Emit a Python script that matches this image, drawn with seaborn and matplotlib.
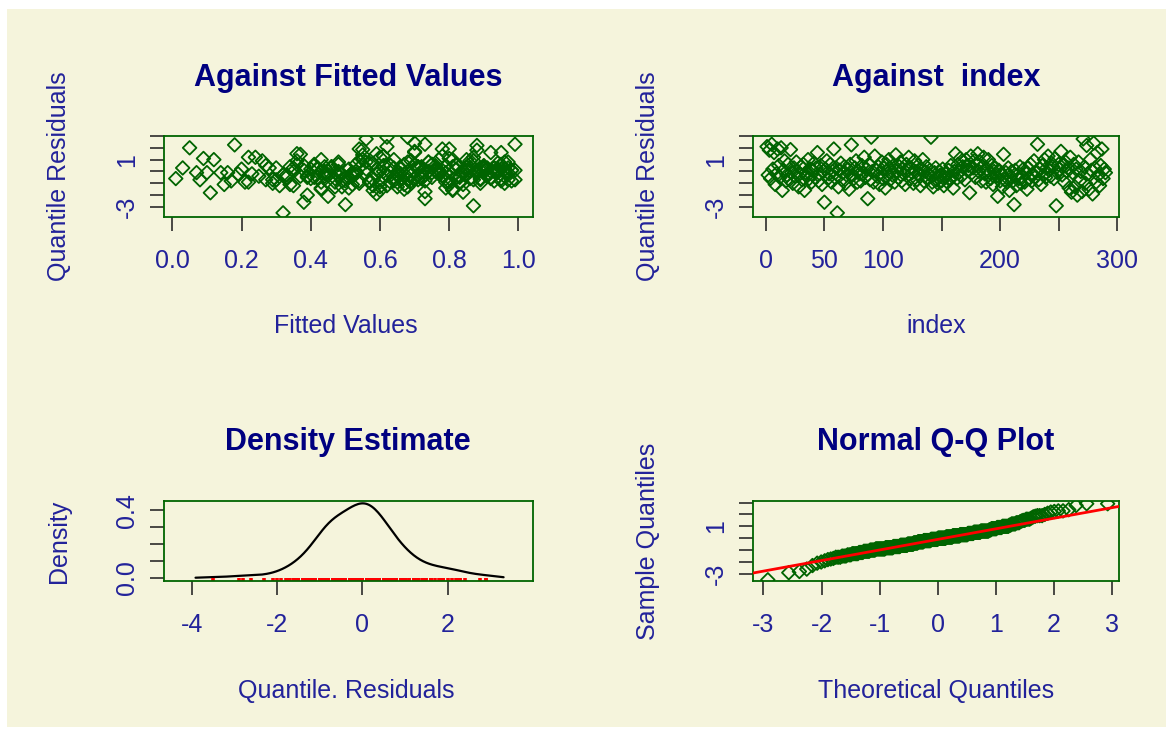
import numpy as np
import pandas as pd
import matplotlib
matplotlib.use("Agg")
import matplotlib.pyplot as plt
from matplotlib.patches import Rectangle
import seaborn as sns
from statistics import NormalDist

# ---------------- data ----------------
residuals = [
    2.1, -0.3, 1.8, -0.6, 2.3, 0.2, 1.6, -1.1, -0.2, 1.9,
    0.5, -0.5, 2.0, -1.6, 0.1, 0.9, -0.8, -0.3, 0.6, -0.7,
    1.85, -0.1, -1.0, 0.3, -0.4, 0.8, 0.0, -1.3, -0.2, 0.4,
    -0.7, 0.6, -1.6, -0.1, -0.4, 1.0, -0.6, 0.2, -0.9, 0.1,
    0.7, -0.5, 0.3, 1.6, -0.8, -0.2, 0.5, -1.1, 0.0, -2.6,
    0.2, 0.9, -0.6, -0.2, 0.6, -0.9, 0.0, 1.9, -0.5, 0.3,
    -3.5, -1.3, 0.1, 0.7, -0.7, -0.1, 0.4, -1.0, -0.3, 0.2,
    -1.5, 0.6, 2.25, -0.3, -0.6, 0.3, 0.9, -0.9, 0.0, -0.2,
    -0.8, 0.5, -0.2, 1.2, -0.5, 0.2, -2.3, 0.6, -0.7, 2.9,
    0.0, -0.9, 1.3, 0.1, -0.4, 0.4, -1.1, -0.1, 0.8, -0.6,
    0.3, -1.4, 0.6, -0.2, 1.0, -0.7, 0.1, -0.3, 0.5, -0.9,
    1.4, 0.0, -0.5, 0.4, 0.8, -0.8, 0.2, -0.2, -1.1, 0.6,
    0.1, 1.2, -0.6, 0.3, -0.1, -1.0, 0.9, 0.0, -0.7, 0.5,
    -0.3, -1.2, 0.2, 1.0, -0.8, 0.0, 0.4, -0.5, -0.2, 0.1,
    2.9, -0.9, -1.3, -0.1, 0.3, -0.7, -1.0, 0.0, -0.3, -0.8,
    0.2, -1.2, -0.5, -0.2, -0.9, 0.1, -0.7, 0.5, -0.4, -1.4,
    0.0, 1.5, -0.6, 0.6, -0.1, 1.1, -0.4, 0.4, 0.8, -0.7,
    1.0, 0.1, 0.5, -1.8, 1.3, -0.1, 0.3, 0.9, -0.5, 0.6,
    1.5, 0.0, 0.8, -0.8, 0.4, 1.2, -0.2, -0.9, 0.2, 1.0,
    -0.1, -0.6, 0.5, -1.1, 0.0, 0.3, -0.4, -2.1, 0.1, -0.8,
    -0.2, -1.3, 1.45, -0.7, -0.1, -0.9, 0.3, -1.6, -0.4, 0.0,
    -0.8, -2.8, 0.1, -1.2, -0.3, -0.6, 0.4, -1.0, -0.5, 0.2,
    -0.9, -0.1, -1.5, 0.3, -0.6, 0.6, -0.8, -0.2, 0.9, -0.5,
    0.0, 2.3, -0.7, 0.2, -1.1, 0.5, -0.3, 1.0, -0.5, 0.3,
    1.3, 0.1, -0.4, 0.7, 0.4, -0.6, 1.1, -2.9, -0.1, 0.6,
    0.2, 1.7, -0.3, 0.5, -0.9, 0.8, 0.0, 0.3, -1.4, 1.2,
    -1.75, -0.1, 0.6, -1.3, 0.2, -2.0, 0.8, -0.8, 0.0, -1.7,
    2.75, 0.4, -1.0, 2.2, -0.2, -1.5, 1.0, 0.1, -1.9, 2.4,
    0.3, -0.9, 1.6, -0.3, -1.2, 0.5, 1.9, -0.6, 0.2, -0.1,
]

fitted = [
    0.62, 0.45, 0.88, 0.01, 0.73, 0.51, 0.95, 0.34, 0.67, 0.80,
    0.41, 0.92, 0.05, 0.58, 0.77, 0.26, 0.69, 0.85, 0.48, 0.97,
    0.55, 0.10, 0.83, 0.64, 0.39, 0.74, 0.90, 0.47, 0.19, 0.71,
    0.87, 0.36, 0.60, 0.94, 0.52, 0.12, 0.79, 0.66, 0.43, 0.99,
    0.58, 0.82, 0.30, 0.70, 0.49, 0.91, 0.63, 0.15, 0.76, 0.38,
    0.96, 0.54, 0.72, 0.44, 0.86, 0.22, 0.61, 0.78, 0.50, 0.93,
    0.32, 0.68, 0.84, 0.57, 0.08, 0.75, 0.46, 0.89, 0.65, 0.40,
    0.81, 0.53, 0.18, 0.97, 0.70, 0.42, 0.87, 0.60, 0.35, 0.77,
    0.64, 0.90, 0.49, 0.24, 0.83, 0.56, 0.73, 0.95, 0.29, 0.68,
    0.45, 0.79, 0.61, 0.98, 0.37, 0.85, 0.52, 0.14, 0.74, 0.66,
    0.91, 0.43, 0.70, 0.59, 0.81, 0.27, 0.94, 0.48, 0.76, 0.63,
    0.55, 0.88, 0.33, 0.72, 0.96, 0.50, 0.20, 0.84, 0.67, 0.41,
    0.78, 0.60, 0.92, 0.46, 0.07, 0.69, 0.86, 0.53, 0.99, 0.38,
    0.71, 0.31, 0.82, 0.64, 0.57, 0.93, 0.44, 0.75, 0.23, 0.89,
    0.62, 0.80, 0.49, 0.97, 0.35, 0.68, 0.54, 0.86, 0.72, 0.17,
    0.94, 0.58, 0.42, 0.77, 0.65, 0.88, 0.30, 0.61, 0.83, 0.51,
    0.74, 0.36, 0.95, 0.67, 0.47, 0.80, 0.25, 0.90, 0.56, 0.71,
    0.43, 0.85, 0.63, 0.11, 0.78, 0.52, 0.97, 0.69, 0.39, 0.82,
    0.59, 0.92, 0.48, 0.73, 0.34, 0.87, 0.66, 0.21, 0.95, 0.55,
    0.79, 0.40, 0.70, 0.84, 0.60, 0.28, 0.91, 0.45, 0.76, 0.98,
    0.53, 0.65, 0.37, 0.89, 0.72, 0.57, 0.03, 0.81, 0.44, 0.68,
    0.93, 0.50, 0.77, 0.62, 0.32, 0.86, 0.71, 0.96, 0.41, 0.59,
    0.83, 0.16, 0.67, 0.90, 0.47, 0.75, 0.54, 0.88, 0.36, 0.64,
    0.74, 0.99, 0.58, 0.42, 0.80, 0.27, 0.69, 0.85, 0.51, 0.93,
    0.61, 0.38, 0.78, 0.94, 0.46, 0.72, 0.09, 0.87, 0.63, 0.55,
    0.90, 0.70, 0.33, 0.82, 0.57, 0.97, 0.44, 0.66, 0.79, 0.22,
    0.84, 0.52, 0.75, 0.60, 0.91, 0.39, 0.68, 0.95, 0.48, 0.73,
    0.56, 0.81, 0.29, 0.88, 0.65, 0.43, 0.77, 0.98, 0.59, 0.70,
    0.86, 0.47, 0.92, 0.62, 0.35, 0.79, 0.54, 0.89, 0.71, 0.96,
]

panel_titles = ["Against Fitted Values", "Against  index", "Density Estimate", "Normal Q-Q Plot"]
x_labels = ["Fitted Values", "index", "Quantile. Residuals", "Theoretical Quantiles"]
y_labels = ["Quantile Residuals", "Quantile Residuals", "Density", "Sample Quantiles"]

resid_ticks = [-3, -2, -1, 0, 1, 2, 3]
resid_ticklabels = ["-3", "", "", "", "1", "", ""]
fitted_ticks = [0.0, 0.2, 0.4, 0.6, 0.8, 1.0]
fitted_ticklabels = ["0.0", "0.2", "0.4", "0.6", "0.8", "1.0"]
index_ticks = [0, 50, 100, 150, 200, 250, 300]
index_ticklabels = ["0", "50", "100", "", "200", "", "300"]
dens_xticks = [-4, -2, 0, 2]
dens_xticklabels = ["-4", "-2", "0", "2"]
dens_yticks = [0.0, 0.1, 0.2, 0.3, 0.4]
dens_yticklabels = ["0.0", "", "", "", "0.4"]
qq_xticks = [-3, -2, -1, 0, 1, 2, 3]
qq_xticklabels = ["-3", "-2", "-1", "0", "1", "2", "3"]

# ---------------- styling ----------------
sns.set_style("white")
plt.rcParams["font.family"] = ["Liberation Sans", "DejaVu Sans"]

BG = "#F5F4DC"
GREEN = "#006400"
TITLE_COL = "#000080"
LAB_COL = "#22229a"
TICK_COL = "#1a1a1a"

W, H = 1173, 732
fig = plt.figure(figsize=(W / 100, H / 100), dpi=100, facecolor="white")
fig.patches.append(Rectangle((7 / W, 1 - 727 / H), (1166 - 7) / W, (727 - 9) / H,
                             transform=fig.transFigure, facecolor=BG, edgecolor="none", zorder=-10))


def add_axes_px(l, t, r, b):
    ax = fig.add_axes([l / W, 1 - b / H, (r - l) / W, (b - t) / H])
    ax.set_facecolor("none")
    for s in ax.spines.values():
        s.set_color(GREEN)
        s.set_linewidth(1.3)
        s.set_visible(True)
    ax.tick_params(axis="both", direction="out", length=10, width=1.1, color=TICK_COL,
                   labelsize=18, labelcolor=LAB_COL, bottom=True, left=True)
    ax.tick_params(axis="x", pad=13)
    ax.tick_params(axis="y", pad=8)
    return ax


def ftext(px, py, s, **kw):
    fig.text(px / W, 1 - py / H, s, **kw)


def yticks(ax, ticks, labels):
    ax.set_yticks(ticks)
    ax.set_yticklabels(labels, rotation=90, va="center")


res = np.array(residuals)
n = len(res)
df = pd.DataFrame({"index": np.arange(1, n + 1), "resid": res, "fitted": fitted})

mk = dict(marker="D", s=48, facecolor="none", edgecolor=GREEN, linewidth=1.3, legend=False)

# Panel 1: against fitted
ax1 = add_axes_px(164, 136, 533, 217)
sns.scatterplot(data=df, x="fitted", y="resid", ax=ax1, **mk)
ax1.set_xlim(-0.024, 1.042)
ax1.set_ylim(-3.85, 3.0)
ax1.set_xticks(fitted_ticks)
ax1.set_xticklabels(fitted_ticklabels)
yticks(ax1, resid_ticks, resid_ticklabels)
ax1.set_xlabel("")
ax1.set_ylabel("")

# Panel 2: against index
ax2 = add_axes_px(753, 136, 1119, 217)
sns.scatterplot(data=df, x="index", y="resid", ax=ax2, **mk)
ax2.set_xlim(-11.0, 301.6)
ax2.set_ylim(-3.85, 3.0)
ax2.set_xticks(index_ticks)
ax2.set_xticklabels(index_ticklabels)
yticks(ax2, resid_ticks, resid_ticklabels)
ax2.set_xlabel("")
ax2.set_ylabel("")

# Panel 3: density estimate
ax3 = add_axes_px(164, 501, 533, 581)
sns.kdeplot(x=res, ax=ax3, bw_adjust=1.0, cut=1.3, color="black", linewidth=1.6)
sns.rugplot(x=res, ax=ax3, color="red", height=0.04, linewidth=2.6)
ax3.set_xlim(-4.65, 4.0)
ax3.set_ylim(-0.0175, 0.4545)
ax3.set_xticks(dens_xticks)
ax3.set_xticklabels(dens_xticklabels)
yticks(ax3, dens_yticks, dens_yticklabels)
ax3.set_xlabel("")
ax3.set_ylabel("")

# Panel 4: normal QQ
ax4 = add_axes_px(753, 501, 1119, 581)
nd = NormalDist()
pp = (np.arange(1, n + 1) - 0.5) / n
theo = np.array([nd.inv_cdf(p) for p in pp])
qq = pd.DataFrame({"theo": theo, "sample": np.sort(res)})
sns.scatterplot(data=qq, x="theo", y="sample", ax=ax4, **mk)
yq = np.percentile(res, [25, 75])
xq = np.array([nd.inv_cdf(0.25), nd.inv_cdf(0.75)])
ax4.axline((xq[0], yq[0]), (xq[1], yq[1]), color="red", linewidth=2.0, zorder=5)
ax4.set_xlim(-3.18, 3.12)
ax4.set_ylim(-3.6, 3.13)
ax4.set_xticks(qq_xticks)
ax4.set_xticklabels(qq_xticklabels)
yticks(ax4, resid_ticks, resid_ticklabels)
ax4.set_xlabel("")
ax4.set_ylabel("")

# titles and axis labels
title_kw = dict(fontsize=22, fontweight="bold", color=TITLE_COL, ha="center", va="baseline")
lab_kw = dict(fontsize=18, color=LAB_COL, ha="center", va="center")
ftext(348, 86, panel_titles[0], **title_kw)
ftext(936, 86, panel_titles[1], **title_kw)
ftext(348, 450, panel_titles[2], **title_kw)
ftext(936, 450, panel_titles[3], **title_kw)

ftext(346, 326, x_labels[0], **lab_kw)
ftext(936, 326, x_labels[1], **lab_kw)
ftext(346, 691, x_labels[2], **lab_kw)
ftext(936, 691, x_labels[3], **lab_kw)

ftext(59, 176, y_labels[0], rotation=90, **lab_kw)
ftext(648, 176, y_labels[1], rotation=90, **lab_kw)
ftext(59, 541, y_labels[2], rotation=90, **lab_kw)
ftext(648, 541, y_labels[3], rotation=90, **lab_kw)

fig.savefig("out.png", dpi=100, facecolor="white")
